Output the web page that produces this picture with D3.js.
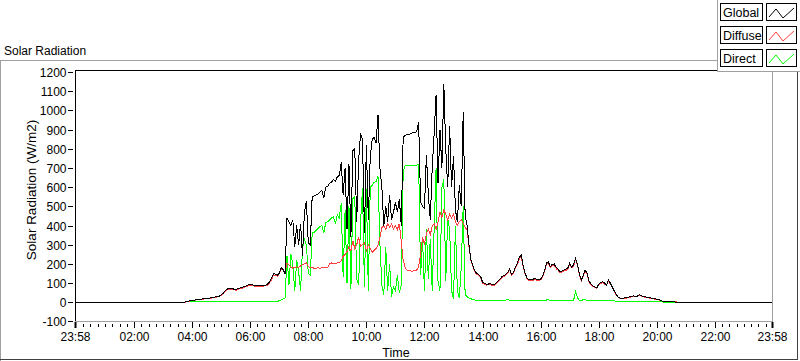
<!DOCTYPE html>
<html><head><meta charset="utf-8">
<script src="https://cdn.jsdelivr.net/npm/d3@7"></script>
<style>
body{margin:0;background:#fff;}
svg{display:block;font-family:"Liberation Sans",Arial,sans-serif;}
</style></head><body>
<svg id="c" width="800" height="361"></svg>
<script>
// ---- data ----
const seriesNames = ["Global", "Diffuse", "Direct"];
const seriesColors = ["#000000", "#ff4040", "#00ff00"];
const yTickValues = [-100, 0, 100, 200, 300, 400, 500, 600, 700, 800, 900, 1000, 1100, 1200];
const xTickMinutes = [-2, 120, 240, 360, 480, 600, 720, 840, 960, 1080, 1200, 1320, 1438];
const xTickLabels = ["23:58", "02:00", "04:00", "06:00", "08:00", "10:00", "12:00", "14:00", "16:00", "18:00", "20:00", "22:00", "23:58"];
const dayStartMin = -2, dayEndMin = 1438;     // axis span (minutes from midnight)
const sampleStartMin = 220, sampleStepMin = 4; // 03:40, every 4 minutes

const globalVals = [
0,0,3,6,8,10,11,13,14,15,
17,18,19,21,22,24,26,28,30,32,
38,47,58,68,72,72,70,68,68,72,
75,78,82,86,90,94,92,88,85,86,
88,88,89,89,95,105,125,150,146,142,
150,180,170,150,440,420,400,430,290,400,
300,410,240,470,530,310,300,550,555,560,
565,575,585,545,600,605,620,625,640,630,
655,660,730,560,700,380,720,340,790,800,
420,740,880,850,360,820,430,760,850,860,
830,975,700,600,400,500,420,560,430,470,
520,470,540,400,860,870,875,875,880,885,
885,890,940,520,500,490,770,560,430,700,
880,1080,620,900,700,1140,800,600,920,600,
760,480,420,610,500,990,450,400,300,220,
190,165,150,145,135,105,98,94,95,98,
92,90,102,112,122,133,140,145,155,175,
145,155,185,205,235,245,190,152,125,116,
118,120,124,120,116,122,135,165,205,210,
185,198,200,182,172,160,162,168,172,178,
205,185,195,230,200,150,115,140,168,150,
110,95,85,80,75,95,102,108,100,90,
115,100,80,60,40,28,22,20,22,24,
25,28,32,33,30,32,40,34,30,28,
26,25,22,20,18,16,14,10,6,5,
4,3,3,2,2,1,0,0,0,0,0
];
const diffuseVals = [
0,0,2,5,7,9,10,12,13,14,
16,17,18,20,21,22,24,26,28,30,
35,44,55,64,68,68,66,64,64,68,
71,74,78,82,86,90,88,84,81,82,
84,84,85,85,90,100,118,142,140,136,
148,172,168,150,205,195,185,178,180,185,
182,190,195,200,205,185,182,180,178,178,
180,178,180,182,180,182,200,205,200,203,
205,205,215,240,250,265,290,270,320,280,
300,340,290,300,310,270,300,280,260,270,
280,300,340,390,400,380,410,390,410,380,
400,380,410,320,220,180,168,165,163,163,
165,168,185,250,340,300,360,380,350,400,
410,380,420,470,440,480,460,430,460,440,
460,420,400,420,430,410,390,380,290,215,
185,160,145,140,130,100,94,90,91,94,
88,86,97,107,117,128,135,140,150,168,
140,150,178,198,228,238,184,147,120,112,
113,115,118,115,111,117,130,158,198,203,
180,192,194,176,167,155,157,163,166,172,
198,180,188,222,194,145,111,135,162,145,
106,91,82,77,72,91,98,104,96,87,
110,96,77,57,38,26,20,18,20,22,
23,26,30,31,28,30,37,32,28,26,
24,23,20,18,16,14,12,9,6,5,
4,3,3,3,3,2,1,0,0,0,0
];
const directVals = [
0,0,2,2,2,2,2,2,2,2,
2,2,2,2,2,2,2,2,2,2,
2,2,2,2,2,2,2,2,5,3,
3,3,3,3,3,3,3,3,3,3,
3,3,3,5,5,5,5,5,5,5,
8,12,18,22,240,90,250,200,60,220,
160,60,280,330,300,150,140,360,365,375,
385,395,400,360,415,420,430,440,445,410,
455,440,515,130,480,100,500,70,540,550,
120,90,420,595,80,590,60,600,610,625,
630,655,300,90,40,290,60,200,30,80,
60,140,50,90,680,710,712,715,715,715,
715,715,720,140,330,60,380,120,330,60,
380,700,110,60,600,640,110,440,380,60,
20,400,60,25,180,500,40,30,22,18,
15,12,10,9,8,8,8,8,8,8,
8,10,12,10,8,8,10,12,14,10,
8,8,8,8,8,8,8,8,8,8,
10,12,10,8,8,8,8,8,12,14,
10,8,8,8,8,8,8,8,8,8,
8,10,8,55,25,10,8,14,14,10,
8,8,8,8,8,8,8,8,8,8,
8,8,8,8,6,6,6,6,6,6,
6,6,6,6,6,6,6,6,6,6,
5,5,5,5,5,4,4,4,2,0,
0,0,0,0,0,0,0,0,0,0,0
];

// ---- layout ----
const svg = d3.select("#c");
const P = {left: 75, right: 772, top: 70, bottom: 322};

const x = d3.scaleLinear().domain([dayStartMin, dayEndMin]).range([P.left, P.right]);
const y = d3.scaleLinear().domain([0, 1200]).range([302.3, 72]);

// outer panel frame
svg.append("line").attr("x1", 0).attr("x2", 717).attr("y1", 60.5).attr("y2", 60.5).attr("stroke", "#a0a0a0");
svg.append("line").attr("x1", 0.5).attr("x2", 0.5).attr("y1", 60.5).attr("y2", 361).attr("stroke", "#a0a0a0");
svg.append("line").attr("x1", 0).attr("x2", 798).attr("y1", 359.5).attr("y2", 359.5).attr("stroke", "#404040");
svg.append("line").attr("x1", 797.5).attr("x2", 797.5).attr("y1", 72).attr("y2", 360).attr("stroke", "#404040");

// title
svg.append("text").attr("x", 4).attr("y", 55).attr("font-size", 12).attr("fill", "#000").text("Solar Radiation");

// plot background
svg.append("rect").attr("x", P.left).attr("y", P.top).attr("width", P.right - P.left).attr("height", P.bottom - P.top).attr("fill", "#fff");

// y ticks
const yAxis = svg.append("g");
yTickValues.forEach(v => {
  const yy = Math.round(y(v)) + 0.5;
  yAxis.append("line").attr("x1", 68).attr("x2", 73).attr("y1", yy).attr("y2", yy).attr("stroke", "#000");
  yAxis.append("text").attr("x", 66.5).attr("y", yy + 4).attr("text-anchor", "end").attr("font-size", 12).text(v);
});

// x ticks
const xAxis = svg.append("g");
const minorTicks = d3.range(15, 1440, 15).filter(m => m % 120 !== 0);
minorTicks.forEach(m => {
  const xx = Math.round(x(m)) + 0.5;
  xAxis.append("line").attr("x1", xx).attr("x2", xx).attr("y1", 324).attr("y2", 327).attr("stroke", "#000");
});
xTickMinutes.forEach((m, i) => {
  const xx = Math.round(x(m)) + 0.5;
  xAxis.append("line").attr("x1", xx).attr("x2", xx).attr("y1", 322).attr("y2", 328).attr("stroke", "#000")
    .attr("stroke-width", (i === 0 || i === xTickMinutes.length - 1) ? 2 : 1);
  xAxis.append("text").attr("x", xx).attr("y", 341).attr("text-anchor", "middle").attr("font-size", 12).text(xTickLabels[i]);
});

// axis titles
svg.append("text").attr("transform", "translate(36,190) rotate(-90)").attr("text-anchor", "middle").attr("font-size", 13.5).text("Solar Radiation (W/m2)");
svg.append("text").attr("x", 396).attr("y", 357).attr("text-anchor", "middle").attr("font-size", 12.5).text("Time");

// data
function buildSeries(vals) {
  const pts = [{t: dayStartMin, v: 0}];
  vals.forEach((v, i) => pts.push({t: sampleStartMin + i * sampleStepMin, v: v}));
  pts.push({t: dayEndMin, v: 0});
  return pts;
}
const allSeries = [globalVals, diffuseVals, directVals].map(buildSeries);
const line = d3.line().x(d => x(d.t)).y(d => y(d.v));
const clip = svg.append("clipPath").attr("id", "pc").append("rect")
  .attr("x", P.left).attr("y", P.top).attr("width", P.right - P.left).attr("height", P.bottom - P.top);
const plotG = svg.append("g").attr("clip-path", "url(#pc)");
[2, 1, 0].forEach(k => {
  plotG.append("path").datum(allSeries[k]).attr("d", line)
    .attr("fill", "none").attr("stroke", seriesColors[k]).attr("stroke-width", 1)
    .attr("shape-rendering", "crispEdges");
});

// plot frame
svg.append("line").attr("x1", P.left + 0.5).attr("x2", P.left + 0.5).attr("y1", P.top).attr("y2", P.bottom).attr("stroke", "#000");
svg.append("line").attr("x1", P.left).attr("x2", P.right).attr("y1", P.top + 0.5).attr("y2", P.top + 0.5).attr("stroke", "#000");
svg.append("line").attr("x1", P.right + 0.5).attr("x2", P.right + 0.5).attr("y1", P.top).attr("y2", P.bottom).attr("stroke", "#a0a0a0");
svg.append("line").attr("x1", P.left).attr("x2", P.right + 1).attr("y1", P.bottom - 0.5).attr("y2", P.bottom - 0.5).attr("stroke", "#a0a0a0");

// legend
const lg = svg.append("g");
lg.append("rect").attr("x", 718).attr("y", 0).attr("width", 82).attr("height", 72).attr("fill", "#fff");
lg.append("line").attr("x1", 717.5).attr("x2", 717.5).attr("y1", 0).attr("y2", 72).attr("stroke", "#a0a0a0");
lg.append("line").attr("x1", 717).attr("x2", 800).attr("y1", 71.5).attr("y2", 71.5).attr("stroke", "#a0a0a0");
seriesNames.forEach((name, i) => {
  const top = 3 + i * 23;
  lg.append("rect").attr("x", 720.5).attr("y", top + 0.5).attr("width", 42).attr("height", 17)
    .attr("fill", "#fff").attr("stroke", "#000");
  lg.append("text").attr("x", 723).attr("y", top + 14).attr("font-size", 12.5).text(name);
  lg.append("rect").attr("x", 766.5).attr("y", top + 0.5).attr("width", 30).attr("height", 17)
    .attr("fill", "#fff").attr("stroke", "#000");
  const ix = 769, iy = top;
  lg.append("polyline").attr("points", [[ix, iy + 14], [ix + 7, iy + 6], [ix + 14, iy + 15], [ix + 25, iy + 5]].map(p => p.join(",")).join(" "))
    .attr("fill", "none").attr("stroke", seriesColors[i]).attr("stroke-width", 1);
});
</script>
</body></html>
